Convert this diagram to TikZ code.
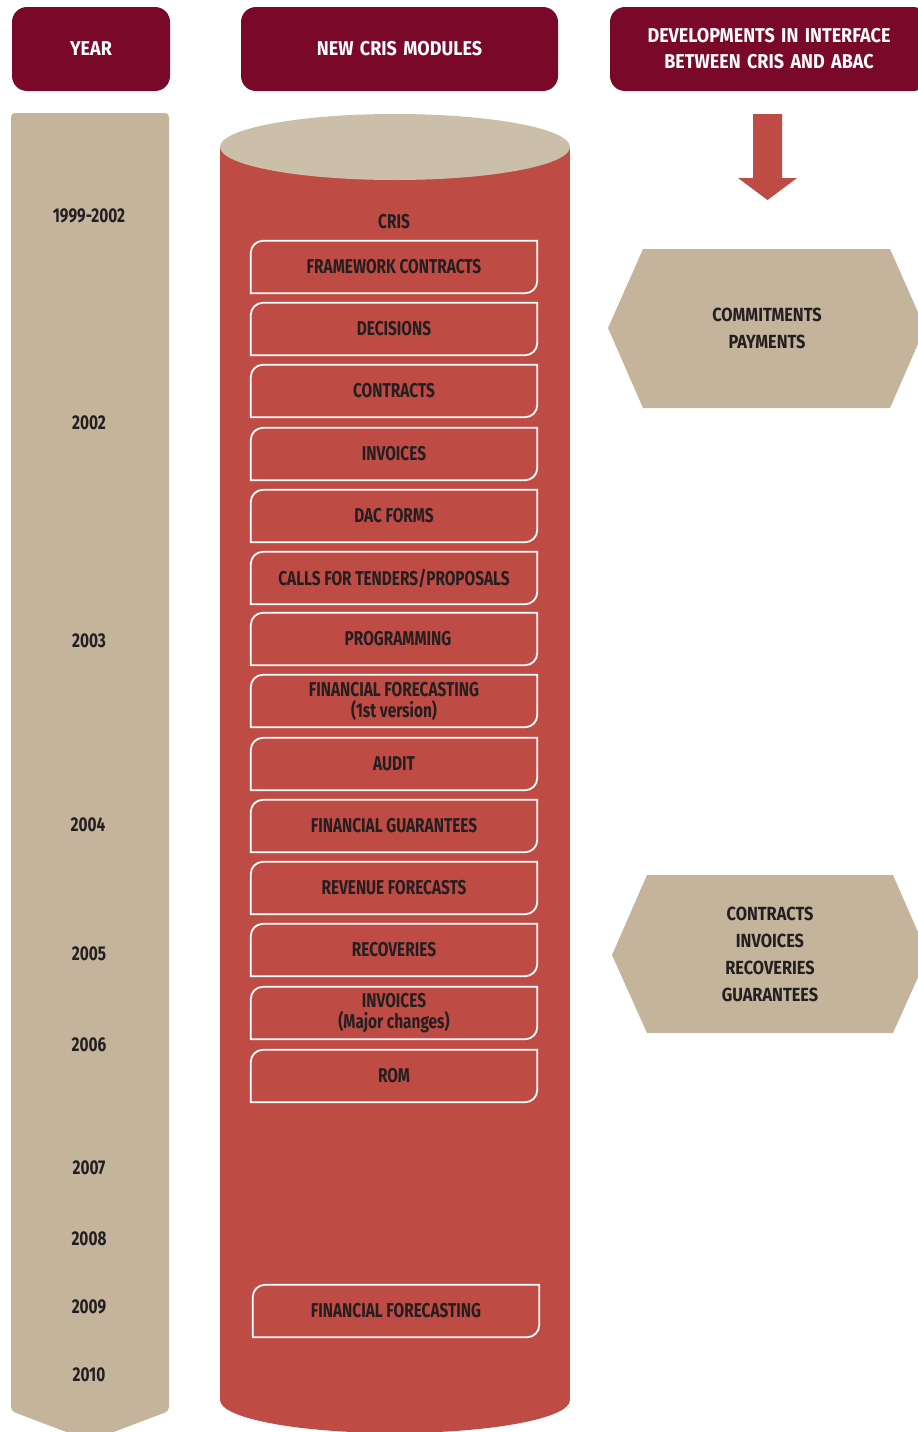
\documentclass[tikz,border=0pt]{standalone}
\usepackage{fontspec}
\setmainfont{Fira Sans}[FakeStretch=0.77]
\newfontfamily\headfont{Fira Sans}[FakeStretch=0.9, WordSpace=1.5]
\newfontfamily\hexfont{Fira Sans}[FakeStretch=0.86]
\usetikzlibrary{calc}

\definecolor{maroon}{HTML}{7A0829}
\definecolor{sand}{HTML}{C4B49C}
\definecolor{sandlight}{HTML}{CBBFA9}
\definecolor{brick}{HTML}{BF4B45}
\definecolor{ink}{HTML}{231F20}

% one module box: name, centre x, top y, label
% (top-left and bottom-right corners rounded with radius 12)
\newcommand{\cismodule}[4]{%
  \node[modbox] (#1) at (#2,#3+26) {#4};
  \draw[boxline] (#1.south west)
    -- ($(#1.north west)+(0,12)$)
    .. controls ($(#1.north west)+(0,5.4)$) and ($(#1.north west)+(5.4,0)$) .. ($(#1.north west)+(12,0)$)
    -- (#1.north east)
    -- ($(#1.south east)+(0,-12)$)
    .. controls ($(#1.south east)+(0,-5.4)$) and ($(#1.south east)+(-5.4,0)$) .. ($(#1.south east)+(-12,0)$)
    -- cycle;}

\begin{document}
\begin{tikzpicture}[x=1pt,y=-1pt,
  lbl/.style={font=\fontsize{20}{21}\selectfont\bfseries, text=ink, align=center, inner sep=0pt},
  header/.style={fill=maroon, rounded corners=15pt, text=white, align=center, inner sep=0pt,
    font=\headfont\fontsize{20}{26}\selectfont\bfseries, minimum height=84pt},
  modbox/.style={lbl, minimum width=286pt, minimum height=52pt},
  boxline/.style={draw=white, line width=1.8pt},
  hexlbl/.style={lbl, font=\hexfont\fontsize{19}{27}\selectfont\bfseries},
]
\useasboundingbox (0,0) rectangle (918,1432);
\clip (0,0) rectangle (918,1432);

% column headers
\node[header, minimum width=158pt] (hyear) at (91,49) {YEAR};
\node[header, minimum width=317pt] (hmod) at (399.5,49) {NEW CRIS MODULES};
\node[header, minimum width=318pt] (hint) at (769,49) {DEVELOPMENTS IN INTERFACE\\BETWEEN CRIS AND ABAC};

% year ribbon
\fill[sand, rounded corners=4pt] (11,1411) -- (11,113) -- (169,113) -- (169,1411) -- (90,1441) -- cycle;
\node[lbl] (y1) at (89,216) {1999-2002};
\node[lbl] (y2) at (89,423) {2002};
\node[lbl] (y3) at (89,641) {2003};
\node[lbl] (y4) at (88,825) {2004};
\node[lbl] (y5) at (89,954) {2005};
\node[lbl] (y6) at (89,1045) {2006};
\node[lbl] (y7) at (89,1168) {2007};
\node[lbl] (y8) at (89,1239) {2008};
\node[lbl] (y9) at (89,1307) {2009};
\node[lbl] (y10) at (89,1375) {2010};

% CRIS cylinder
\fill[brick] (220,147) rectangle (570,1400);
\fill[brick] (395,1400) ellipse [x radius=175pt, y radius=33pt];
\fill[sandlight] (395,147) ellipse [x radius=175pt, y radius=33pt];
\node[lbl] (cris) at (394,222) {CRIS};

\cismodule{m1}{394}{241}{FRAMEWORK CONTRACTS}
\cismodule{m2}{394}{303}{DECISIONS}
\cismodule{m3}{394}{365}{CONTRACTS}
\cismodule{m4}{394}{428}{INVOICES}
\cismodule{m5}{394}{490}{DAC FORMS}
\cismodule{m6}{394}{552}{CALLS FOR TENDERS/PROPOSALS}
\cismodule{m7}{394}{613}{\hspace*{8pt}PROGRAMMING}
\cismodule{m8}{394}{675}{FINANCIAL FORECASTING\\(1st version)}
\cismodule{m9}{394}{738}{AUDIT}
\cismodule{m10}{394}{800}{FINANCIAL GUARANTEES}
\cismodule{m11}{394}{862}{REVENUE FORECASTS}
\cismodule{m12}{394}{924}{RECOVERIES}
\cismodule{m13}{394}{987}{INVOICES\\(Major changes)}
\cismodule{m14}{394}{1050}{ROM}
\cismodule{m15}{396}{1285}{FINANCIAL FORECASTING}

% interface column
\fill[brick] (753,114) -- (782,114) -- (782,178) -- (797,178) -- (767.5,200)
  -- (738,178) -- (753,178) -- cycle;

\fill[sand] (608,328) -- (643,249) -- (890,249) -- (925,328) -- (890,408) -- (643,408) -- cycle;
\node[hexlbl] (hx1) at (767,328) {COMMITMENTS\\PAYMENTS};

\fill[sand] (612,955) -- (647,875) -- (893,875) -- (928,955) -- (893,1033) -- (647,1033) -- cycle;
\node[hexlbl] (hx2) at (770,954) {CONTRACTS\\INVOICES\\RECOVERIES\\GUARANTEES};
\end{tikzpicture}
\end{document}
